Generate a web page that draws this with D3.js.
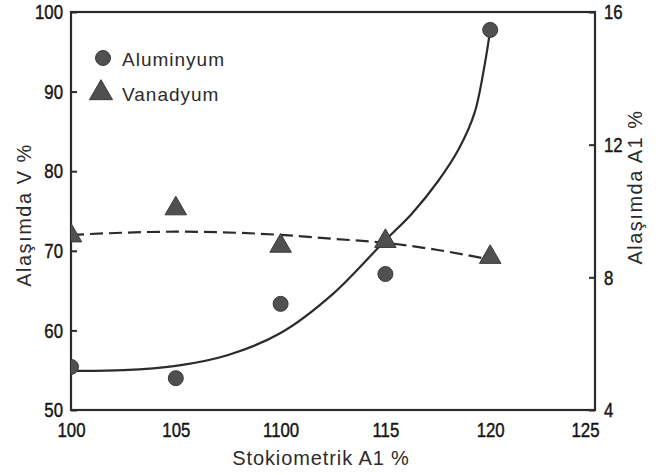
<!DOCTYPE html>
<html>
<head>
<meta charset="utf-8">
<script src="https://cdn.jsdelivr.net/npm/d3@7"></script>
<style>
  html, body { margin: 0; padding: 0; background: #fff; }
  svg { display: block; }
</style>
</head>
<body>
<svg id="chart" width="661" height="475"></svg>
<script>
// ---- data ----
const xTicks = [100, 105, 110, 115, 120, 125];
const xTickLabels = ["100", "105", "1100", "115", "120", "125"];
const yLeftTicks = [50, 60, 70, 80, 90, 100];
const yRightTicks = [4, 8, 12, 16];

const pointX = [100, 105, 110, 115, 120];
const aluminyum = [5.30, 4.96, 7.20, 8.10, 15.46];      // right axis (Alaşımda A1 %)
const vanadyum  = [71.9, 75.3, 70.6, 71.2, 69.2];       // left axis (Alaşımda V %)

const alFitX = [100, 102.5, 105, 107.5, 110, 112.5, 115, 116.25, 117.5, 118.5, 119.25, 119.75, 120];
const alFitY = [5.18, 5.2, 5.33, 5.66, 6.32, 7.5, 9.12, 9.91, 10.89, 11.87, 12.95, 14.46, 15.46];
const vFitX  = [100, 105, 110, 112.5, 115, 117.5, 120];
const vFitY  = [72.0, 72.4, 72.0, 71.5, 71.0, 70.1, 68.9];

const legendNames = ["Aluminyum", "Vanadyum"];

const xTitle = "Stokiometrik A1 %";
const yLeftTitle = "Alaşımda V %";
const yRightTitle = "Alaşımda A1 %";

// ---- layout ----
const plot = { left: 71, right: 595, top: 12, bottom: 410 };
const ink = "#2b2b2b";
const markFill = "#505050";
const tickFont = "'Liberation Sans', Arial, Helvetica, sans-serif";
const textFont = "'Liberation Sans', Arial, Helvetica, sans-serif";
const condense = 0.8;

const svg = d3.select("#chart");

const x = d3.scaleLinear().domain([100, 125]).range([plot.left, plot.right]);
const yL = d3.scaleLinear().domain([50, 100]).range([plot.bottom, plot.top]);
const yR = d3.scaleLinear().domain([4, 16]).range([plot.bottom, plot.top]);

// clip
svg.append("defs").append("clipPath").attr("id", "clip")
  .append("rect")
  .attr("x", plot.left).attr("y", plot.top)
  .attr("width", plot.right - plot.left).attr("height", plot.bottom - plot.top);

// axes
const gx = svg.append("g")
  .attr("transform", `translate(0,${plot.bottom})`)
  .call(d3.axisBottom(x).tickValues(xTicks)
    .tickFormat((d, i) => xTickLabels[i]).tickSize(0).tickPadding(12));

const gl = svg.append("g")
  .attr("transform", `translate(${plot.left},0)`)
  .call(d3.axisLeft(yL).tickValues(yLeftTicks).tickSizeInner(-6).tickSizeOuter(0).tickPadding(8));

const gr = svg.append("g")
  .attr("transform", `translate(${plot.right},0)`)
  .call(d3.axisRight(yR).tickValues(yRightTicks).tickSizeInner(-6).tickSizeOuter(0).tickPadding(9));

// last bottom label sits slightly left, inside the frame corner
gx.selectAll(".tick text").filter(d => d === 125).attr("x", -10);

[gx, gl, gr].forEach(g => {
  g.select(".domain").remove();
  g.selectAll(".tick line").attr("stroke", ink).attr("stroke-width", 2);
  g.selectAll(".tick text")
    .attr("fill", "#151515")
    .attr("stroke", "#151515").attr("stroke-width", 0.45)
    .style("font-family", tickFont)
    .style("font-size", "21px")
    .each(function () {
      const t = d3.select(this);
      const tx = +t.attr("x") || 0;
      t.attr("x", 0).attr("transform", `translate(${tx},0) scale(${condense},1)`);
    });
});

// frame
svg.append("rect")
  .attr("x", plot.left).attr("y", plot.top)
  .attr("width", plot.right - plot.left).attr("height", plot.bottom - plot.top)
  .attr("fill", "none").attr("stroke", ink).attr("stroke-width", 2.2);

// axis titles
svg.append("text")
  .attr("x", (plot.left + plot.right) / 2 - 12).attr("y", 465)
  .attr("text-anchor", "middle")
  .attr("fill", ink)
  .style("font-family", textFont).style("font-size", "20px").style("letter-spacing", "0.9px")
  .text(xTitle);

svg.append("text")
  .attr("transform", `translate(31,215) rotate(-90)`)
  .attr("text-anchor", "middle")
  .attr("fill", ink)
  .style("font-family", textFont).style("font-size", "20px").style("letter-spacing", "1.5px")
  .text(yLeftTitle);

svg.append("text")
  .attr("transform", `translate(642,187) rotate(-90)`)
  .attr("text-anchor", "middle")
  .attr("fill", ink)
  .style("font-family", textFont).style("font-size", "20px").style("letter-spacing", "1.5px")
  .text(yRightTitle);

// curves
const plotG = svg.append("g").attr("clip-path", "url(#clip)");

const alLine = d3.line()
  .x((d, i) => x(alFitX[i]))
  .y(d => yR(d))
  .curve(d3.curveCatmullRom.alpha(0.5));
plotG.append("path")
  .datum(alFitY)
  .attr("d", alLine)
  .attr("fill", "none").attr("stroke", ink).attr("stroke-width", 2.2);

const vLine = d3.line()
  .x((d, i) => x(vFitX[i]))
  .y(d => yL(d))
  .curve(d3.curveMonotoneX);
plotG.append("path")
  .datum(vFitY)
  .attr("d", vLine)
  .attr("fill", "none").attr("stroke", ink).attr("stroke-width", 2.2)
  .attr("stroke-dasharray", "13,6");

// markers
const tri = d3.symbol().type(d3.symbolTriangle).size(200);
plotG.selectAll(".vmark")
  .data(vanadyum)
  .join("path")
  .attr("class", "vmark")
  .attr("d", tri)
  .attr("transform", (d, i) => `translate(${x(pointX[i])},${yL(d)})`)
  .attr("fill", markFill).attr("stroke", "#3a3a3a").attr("stroke-width", 1);

plotG.selectAll(".amark")
  .data(aluminyum)
  .join("circle")
  .attr("class", "amark")
  .attr("cx", (d, i) => x(pointX[i]))
  .attr("cy", d => yR(d))
  .attr("r", 7.5)
  .attr("fill", markFill).attr("stroke", "#3a3a3a").attr("stroke-width", 1);

// legend
const legend = svg.append("g").attr("transform", "translate(102,58)");
const rows = legend.selectAll("g").data(legendNames).join("g")
  .attr("transform", (d, i) => `translate(0,${i * 35})`);
rows.each(function (d, i) {
  const g = d3.select(this);
  if (i === 0) {
    g.append("circle").attr("r", 7.5).attr("cx", 1)
      .attr("fill", markFill).attr("stroke", "#3a3a3a").attr("stroke-width", 1);
  } else {
    g.append("path").attr("d", d3.symbol().type(d3.symbolTriangle).size(230))
      .attr("transform", "translate(-1,0)")
      .attr("fill", markFill).attr("stroke", "#3a3a3a").attr("stroke-width", 1);
  }
  g.append("text")
    .attr("x", 20).attr("y", 8)
    .attr("fill", ink)
    .style("font-family", textFont).style("font-size", "19px").style("letter-spacing", "1px")
    .text(d);
});
</script>
</body>
</html>
